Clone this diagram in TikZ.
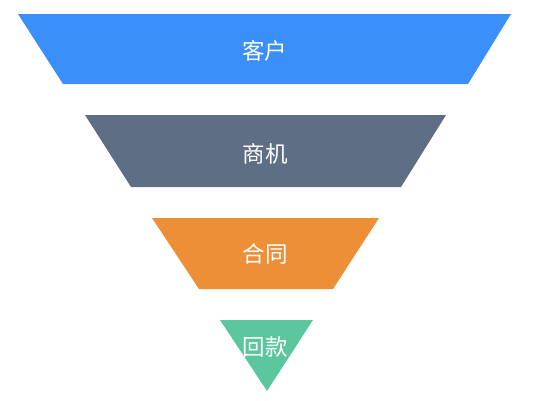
\documentclass[tikz,border=0pt]{standalone}
\usepackage{fontspec}
\newfontfamily\cjk{Noto Sans CJK SC}
\definecolor{cblue}{HTML}{3A8FF8}
\definecolor{cgray}{HTML}{5E6E84}
\definecolor{corange}{HTML}{EC8F37}
\definecolor{cgreen}{HTML}{5CC69C}
\begin{document}
\begin{tikzpicture}[x=1pt,y=-1pt,
  lbl/.style={text=white,font=\cjk\fontsize{22.5}{26}\selectfont,inner sep=0pt}]
\useasboundingbox (0,0) rectangle (536,400);
\fill[cblue] (18,14) -- (511,14) -- (468,84) -- (63,84) -- cycle;
\fill[cgray] (85,115) -- (446,115) -- (401,187) -- (131,187) -- cycle;
\fill[corange] (152,218) -- (379,218) -- (333,289) -- (199,289) -- cycle;
\fill[cgreen] (220,320) -- (313,320) -- (267,391) -- cycle;
\node[lbl] (a) at (264.5,50.5) {客户};
\node[lbl] (b) at (265,153.5) {商机};
\node[lbl] (c) at (265,253.5) {合同};
\node[lbl] (d) at (265,347) {回款};
\end{tikzpicture}
\end{document}
